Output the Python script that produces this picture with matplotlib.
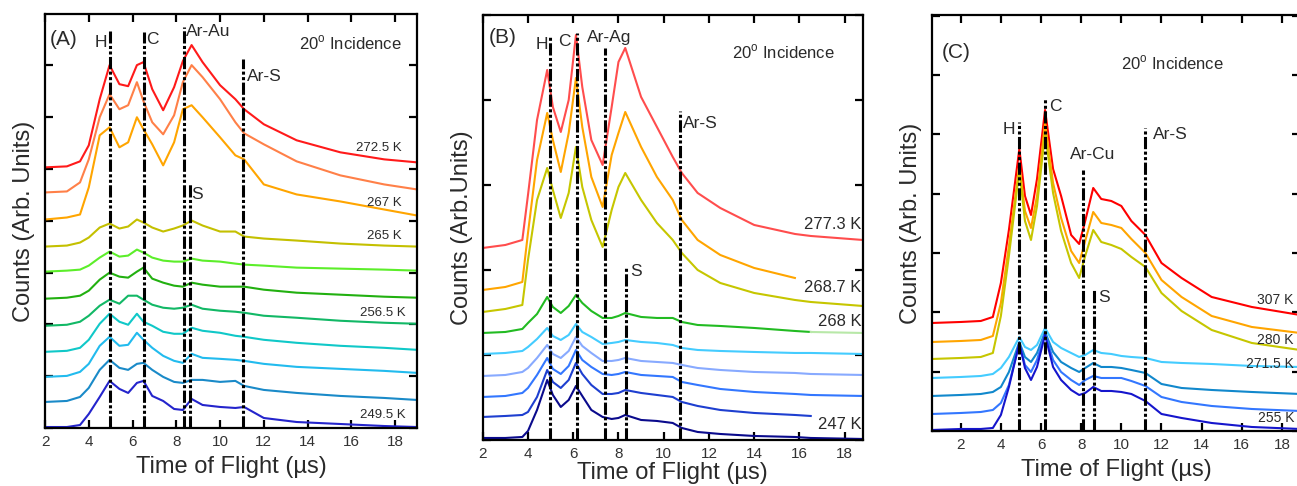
import numpy as np
import matplotlib
matplotlib.use('Agg')
import matplotlib.pyplot as plt
from matplotlib.ticker import MultipleLocator

plt.rcParams['font.family'] = ['Liberation Sans', 'DejaVu Sans']
plt.rcParams['mathtext.fontset'] = 'custom'
plt.rcParams['mathtext.rm'] = 'Liberation Sans'

nan = np.nan

# ---- panel A : Ar on Au, time of flight (us) and stacked counts (arb.) ----
tof_a = [2, 3, 3.6, 4.0, 4.5, 4.95, 5.4, 5.8, 6.2, 6.5, 6.9, 7.4, 7.9, 8.3, 8.7,
         9.2, 10.0, 10.7, 11.1, 12.0, 13.5, 15.5, 17.5, 19]
a1 = [260, 261, 266, 282, 328, 362, 343, 341, 362, 365, 338, 317, 340, 366, 382,
      365, 342, 328, 318, 303, 287, 275, 268, 265]
a2 = [235, 236, 245, 268, 310, 333, 318, 322, 345, 326, 305, 293, 312, 345, 362,
      350, 328, 305, 294, 283, 266, 252, 243, 238]
a3 = [208, 210, 213, 240, 292, 300, 280, 285, 310, 298, 283, 262, 285, 318, 322,
      310, 290, 272, 268, 243, 233, 226, 218, 212]
a4 = [181, 182, 185, 190, 200, 204, 199, 201, 208, 205, 200, 196, 199, 202, 207,
      202, 196, 196, 191, 189, 187, 184, 182, 181]
a5 = [156, 157, 158, 162, 170, 176, 171, 172, 178, 175, 170, 167, 166, 166, 169,
      167, 166, 164, 163, 162, 160, 159, 158, 157]
a6 = [129, 130, 132, 137, 148, 155, 151, 150, 156, 160, 149, 145, 142, 141, 145,
      143, 141, 141, 141, 138, 135, 133, 131, 130]
a7 = [102, 103, 106, 112, 122, 128, 124, 132, 132, 128, 123, 120, 119, 120, 123,
      119, 117, 116, 115, 112, 110, 107, 105, 104]
a8 = [76, 77, 80, 88, 104, 114, 106, 103, 114, 106, 102, 96, 94, 94, 100,
      97, 95, 92, 91, 88, 85, 82, 80, 78]
a9 = [51, 52, 56, 64, 82, 91, 82, 83, 95, 88, 80, 72, 67, 65, 74,
      70, 69, 68, 67, 64, 61, 59, 57, 55]
a10 = [26, 27, 31, 40, 58, 68, 60, 58, 64, 65, 58, 51, 46, 45, 48,
       48, 46, 47, 42, 38, 35, 32, 30, 28]
a11 = [1, 1, 3, 14, 31, 47, 39, 35, 45, 47, 32, 27, 19, 18, 29,
       23, 21, 20, 21, 10, 6, 4, 2, 1]
temps_a = ['272.5 K', '267 K', '265 K', '256.5 K', '249.5 K']
peaks_a = ['H', 'C', 'Ar-Au', 'S', 'Ar-S']
peaks_a_x = [4.97, 6.51, 8.34, 8.64, 11.07]
peaks_a_top = [396, 395, 400, 243, 368]

# ---- panel B : Ar on Ag ----
tof_b = [2, 3, 3.75, 4.0, 4.4, 4.85, 5.1, 5.45, 5.8, 6.12, 6.4, 6.8, 7.3, 7.7,
         8.0, 8.3, 9.0, 9.7, 10.4, 10.8, 11.5, 12.5, 14, 15.8, 16.5, 18.8]
b1 = [192, 195, 200, 245, 320, 370, 333, 308, 340, 405, 353, 300, 275, 333,
      378, 392, 343, 313, 283, 267, 247, 232, 215, 206, 204, 200]
b2 = [150, 153, 158, 207, 280, 327, 300, 268, 307, 362, 313, 263, 233, 285,
      307, 328, 293, 263, 240, 220, 200, 185, 172, 162, nan, nan]
b3 = [128, 131, 135, 180, 240, 272, 250, 222, 247, 293, 253, 220, 193, 230,
      253, 267, 240, 217, 200, 187, 170, 157, 147, 140, 138, 134]
b4 = [107, 108, 111, 117, 126, 143, 133, 127, 134, 145, 137, 129, 122, 122,
      124, 127, 123, 122, 122, 118, 115, 114, 112, 109, 108, nan]
b4_tail_tof = [16.5, 18.8]
b4_tail = [108, 107]
b5 = [86, 87, 89, 93, 101, 112, 104, 100, 105, 116, 108, 103, 96, 97,
      98, 100, 98, 97, 95, 92, 90, 89, 88, 87, 87, 86]
b6 = [64, 65, 68, 72, 82, 95, 86, 82, 89, 103, 94, 87, 79, 79,
      80, 82, 79, 78, 77, 75, 72, 70, 68, 67, 66, 65]
b7 = [43, 44, 47, 52, 65, 82, 71, 66, 74, 90, 80, 73, 66, 65,
      66, 68, 65, 64, 63, 58, 55, 51, 48, 46, 45, 44]
b8 = [23, 24, 25, 28, 43, 70, 58, 52, 60, 77, 66, 55, 46, 46,
      47, 50, 47, 45, 43, 38, 34, 30, 27, 25, 24, nan]
b9 = [2, 2, 3, 9, 30, 60, 45, 33, 40, 54, 44, 30, 23, 21,
      22, 25, 20, 19, 17, 12, 8, 6, 4, 3, 2, 1]
temps_b = ['277.3 K', '268.7 K', '268 K', '247 K']
peaks_b = ['H', 'C', 'Ar-Ag', 'S', 'Ar-S']
peaks_b_x = [4.97, 6.15, 7.40, 8.32, 10.72]
peaks_b_top = [405, 407, 392, 173, 329]

# ---- panel C : Ar on Cu ----
tof_c = [0.57, 2, 3, 3.6, 4.0, 4.4, 4.92, 5.2, 5.5, 5.8, 6.2, 6.6, 7.0, 7.5,
         7.9, 8.2, 8.6, 9.0, 9.5, 10.0, 10.5, 11.2, 12.0, 13.0, 14.5, 16.5, 18.9]
c1 = [108, 109, 110, 114, 148, 201, 282, 235, 216, 252, 321, 262, 235, 196,
      187, 210, 243, 232, 230, 225, 210, 196, 168, 153, 134, 124, 116]
c2 = [89, 90, 91, 95, 128, 185, 266, 220, 203, 235, 308, 248, 213, 180,
      168, 190, 219, 208, 206, 203, 192, 178, 151, 134, 115, 104, 98]
c3 = [72, 73, 74, 78, 115, 175, 261, 210, 191, 225, 298, 238, 200, 168,
      153, 175, 201, 189, 186, 182, 174, 164, 138, 120, 101, 88, 81]
c4 = [53, 54, 55, 57, 63, 74, 94, 84, 81, 86, 103, 89, 83, 78,
      74, 76, 81, 78, 77, 75, 74, 73, 69, 68, 67, 65, 64]
c5 = [35, 36, 37, 39, 44, 59, 89, 74, 69, 78, 99, 79, 69, 63,
      59, 63, 68, 64, 64, 63, 61, 58, 47, 43, 41, 39, 37]
c6 = [17, 18, 19, 21, 28, 46, 88, 66, 59, 71, 98, 71, 59, 51,
      46, 51, 55, 53, 53, 53, 50, 45, 34, 29, 25, 22, 20]
c7 = [1, 2, 2, 3, 16, 44, 88, 63, 51, 64, 96, 64, 51, 41,
      36, 38, 44, 40, 40, 39, 37, 30, 17, 13, 8, 4, 2]
temps_c = ['307 K', '280 K', '271.5 K', '255 K']
peaks_c = ['H', 'C', 'Ar-Cu', 'S', 'Ar-S']
peaks_c_x = [4.92, 6.20, 8.11, 8.65, 11.19]
peaks_c_top = [309, 332, 261, 141, 303]

colors_a = ['#FF1A1A', '#FF8048', '#FFA500', '#C4C000', '#5CEE2A', '#22B010',
            '#12B866', '#10C8C8', '#22BBEE', '#1A8AC8', '#2424CC']
colors_b = ['#FF4D4D', '#FFA500', '#C6C600', '#22BB22', '#44CCFF', '#88AAFF',
            '#3377FF', '#1E3FD0', '#0A0A8C']
colors_c = ['#FF0000', '#FFA500', '#C6C600', '#44CCFF', '#1188CC', '#3377FF',
            '#1515CC']

TXT = '#2a2a2a'
DASH = (0, (4, 0.8, 1, 0.8, 1, 0.8))


def style_axes(ax, xlim, ylim, ystep, ylabel, xpad=5):
    ax.set_xlim(*xlim)
    ax.set_ylim(*ylim)
    ax.xaxis.set_major_locator(MultipleLocator(2))
    ax.yaxis.set_major_locator(MultipleLocator(ystep))
    ax.tick_params(direction='in', length=6, width=1.6, top=True, right=True,
                   labelleft=False, labelsize=11, labelcolor='#333333', pad=5)
    for s in ax.spines.values():
        s.set_linewidth(1.6)
    ax.set_xlabel('Time of Flight (µs)', fontsize=17, labelpad=xpad, color=TXT)
    ax.set_ylabel(ylabel, fontsize=17, labelpad=7, color=TXT)


def draw_peaks(ax, xs, tops):
    for x, top in zip(xs, tops):
        ax.plot([x, x], [0, top], color='black', lw=2.2, linestyle=DASH,
                zorder=5)


fig = plt.figure(figsize=(12.97, 4.86), dpi=100)
ax_a = fig.add_axes([0.0347, 0.1193, 0.2868, 0.8519])
ax_b = fig.add_axes([0.3722, 0.0947, 0.2930, 0.8745])
ax_c = fig.add_axes([0.7186, 0.1132, 0.2837, 0.8560])

# panel A
for ys, col in zip([a1, a2, a3, a4, a5, a6, a7, a8, a9, a10, a11], colors_a):
    ax_a.plot(tof_a, ys, color=col, lw=1.5)
draw_peaks(ax_a, peaks_a_x, peaks_a_top)
style_axes(ax_a, (2, 19), (0, 413), 51.7, 'Counts (Arb. Units)')
ax_a.text(4.85, 385, peaks_a[0], ha='right', va='center', fontsize=12.5, color=TXT)
ax_a.text(6.6, 388, peaks_a[1], ha='left', va='center', fontsize=12.5, color=TXT)
ax_a.text(8.45, 396, peaks_a[2], ha='left', va='center', fontsize=12.5, color=TXT)
ax_a.text(8.7, 233, peaks_a[3], ha='left', va='center', fontsize=12.5, color=TXT)
ax_a.text(11.25, 351, peaks_a[4], ha='left', va='center', fontsize=12.5, color=TXT)
ax_a.text(2.2, 388, '(A)', ha='left', va='center', fontsize=15, color=TXT)
ax_a.text(18.3, 384, r'20$^{\mathrm{o}}$ Incidence', ha='right', va='center',
          fontsize=12, color=TXT)
for t, x, y in zip(temps_a, [18.3, 18.3, 18.3, 18.5, 18.5], [279, 224, 192, 115, 13]):
    ax_a.text(x, y, t, ha='right', va='center', fontsize=9.5, color=TXT)

# panel B
for ys, col in zip([b1, b2, b3, b4, b5, b6, b7, b8, b9], colors_b):
    ax_b.plot(tof_b, ys, color=col, lw=1.5)
ax_b.plot(b4_tail_tof, b4_tail, color='#B8E8A8', lw=1.5)
draw_peaks(ax_b, peaks_b_x, peaks_b_top)
style_axes(ax_b, (2, 18.8), (0, 425), 85, 'Counts (Arb.Units)', xpad=1)
ax_b.text(4.88, 395, peaks_b[0], ha='right', va='center', fontsize=12.5, color=TXT)
ax_b.text(5.9, 398, peaks_b[1], ha='right', va='center', fontsize=12.5, color=TXT)
ax_b.text(6.6, 402, peaks_b[2], ha='left', va='center', fontsize=12.5, color=TXT)
ax_b.text(8.5, 168, peaks_b[3], ha='left', va='center', fontsize=12.5, color=TXT)
ax_b.text(10.85, 316, peaks_b[4], ha='left', va='center', fontsize=12.5, color=TXT)
ax_b.text(2.28, 402, '(B)', ha='left', va='center', fontsize=15, color=TXT)
ax_b.text(13.0, 388, r'20$^{\mathrm{o}}$ Incidence', ha='left', va='center',
          fontsize=12, color=TXT)
for t, y in zip(temps_b, [215, 152, 118, 15]):
    ax_b.text(18.75, y, t, ha='right', va='center', fontsize=12, color=TXT)

# panel C
for ys, col in zip([c1, c2, c3, c4, c5, c6, c7], colors_c):
    ax_c.plot(tof_c, ys, color=col, lw=1.5)
draw_peaks(ax_c, peaks_c_x, peaks_c_top)
style_axes(ax_c, (0.57, 18.9), (0, 416), 59.3, 'Counts (Arb. Units)')
ax_c.text(4.7, 301, peaks_c[0], ha='right', va='center', fontsize=12.5, color=TXT)
ax_c.text(6.4, 324, peaks_c[1], ha='left', va='center', fontsize=12.5, color=TXT)
ax_c.text(7.45, 276, peaks_c[2], ha='left', va='center', fontsize=12.5, color=TXT)
ax_c.text(8.86, 133, peaks_c[3], ha='left', va='center', fontsize=12.5, color=TXT)
ax_c.text(11.57, 296, peaks_c[4], ha='left', va='center', fontsize=12.5, color=TXT)
ax_c.text(1.05, 378, '(C)', ha='left', va='center', fontsize=15, color=TXT)
ax_c.text(9.98, 368, r'20$^{\mathrm{o}}$ Incidence', ha='left', va='center',
          fontsize=12, color=TXT)
for t, x, y in zip(temps_c, [16.76, 16.76, 16.2, 16.8], [131, 91, 67, 13]):
    ax_c.text(x, y, t, ha='left', va='center', fontsize=10, color=TXT)

fig.savefig('out.png', dpi=100)
